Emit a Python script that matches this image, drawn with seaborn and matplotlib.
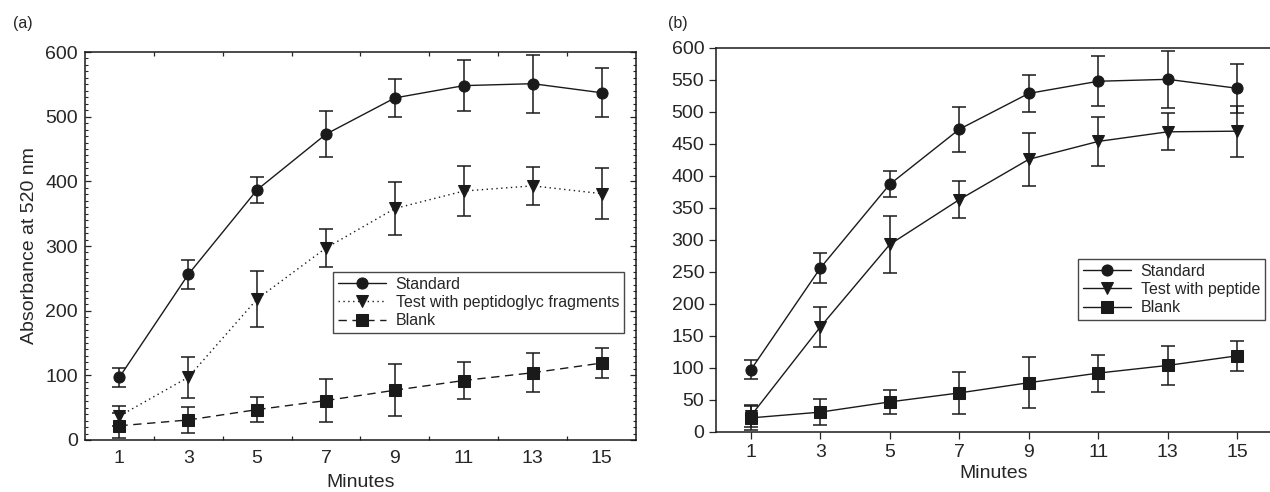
import numpy as np
import pandas as pd
import matplotlib
matplotlib.use("Agg")
import matplotlib.pyplot as plt
from matplotlib.ticker import MultipleLocator, FixedLocator
import seaborn as sns

minutes = [1, 3, 5, 7, 9, 11, 13, 15]

standard = [97, 256, 387, 473, 529, 548, 551, 537]
standard_err = [15, 23, 20, 35, 29, 39, 45, 38]

test_peptidoglyc = [37, 97, 218, 297, 358, 385, 393, 381]
test_peptidoglyc_err = [16, 32, 44, 29, 41, 38, 29, 40]

test_peptide = [25, 164, 293, 363, 426, 454, 469, 470]
test_peptide_err = [17, 32, 44, 29, 41, 38, 29, 40]

blank = [22, 31, 47, 61, 77, 92, 104, 119]
blank_err = [19, 20, 19, 33, 40, 29, 30, 23]

sns.set_style("ticks")
plt.rcParams["font.family"] = ["Liberation Sans", "DejaVu Sans"]

INK = "#1a1a1a"
TICK_FS = 14
LABEL_FS = 14


def draw_series(ax, y, err, label, marker, dashes, ms):
    df = pd.DataFrame({"Minutes": minutes, "value": y})
    ax.errorbar(minutes, y, yerr=err, fmt="none", ecolor=INK,
                elinewidth=1.1, capsize=5, capthick=1.1, zorder=2)
    sns.lineplot(data=df, x="Minutes", y="value", ax=ax, color=INK,
                 marker=marker, markersize=ms, markeredgecolor=INK,
                 markerfacecolor=INK, linewidth=1.0, label=label,
                 dashes=False, zorder=3)
    line = ax.get_lines()[-1]
    if dashes is not None:
        line.set_dashes(dashes)


fig = plt.figure(figsize=(12.7, 4.92), dpi=100)
ax_a = fig.add_axes([0.0669, 0.1057, 0.4339, 0.7886])
ax_b = fig.add_axes([0.5638, 0.122, 0.4378, 0.7805])

# panel (a)
draw_series(ax_a, standard, standard_err, "Standard", "o", None, 8)
draw_series(ax_a, test_peptidoglyc, test_peptidoglyc_err,
            "Test with peptidoglyc fragments", "v", (1, 2.5), 8)
draw_series(ax_a, blank, blank_err, "Blank", "s", (6, 4), 8)

ax_a.set_xlim(0, 16)
ax_a.set_ylim(0, 600)
ax_a.xaxis.set_major_locator(FixedLocator(minutes))
ax_a.xaxis.set_minor_locator(FixedLocator([2, 4, 6, 8, 10, 12, 14]))
ax_a.yaxis.set_major_locator(MultipleLocator(100))
ax_a.yaxis.set_minor_locator(MultipleLocator(10))
ax_a.tick_params(axis="x", which="major", length=0, labelsize=TICK_FS, pad=7)
ax_a.tick_params(axis="x", which="minor", direction="in", length=3,
                 top=True, bottom=True, width=0.9)
ax_a.tick_params(axis="y", which="major", direction="in", length=4,
                 left=True, right=True, labelsize=TICK_FS, pad=5, width=0.9)
ax_a.tick_params(axis="y", which="minor", direction="in", length=2.5,
                 left=True, right=True, width=0.8)
for s in ax_a.spines.values():
    s.set_visible(True)
    s.set_linewidth(1.1)
    s.set_color(INK)
ax_a.set_xlabel("Minutes", fontsize=LABEL_FS, labelpad=5)
ax_a.set_ylabel("Absorbance at 520 nm", fontsize=LABEL_FS, labelpad=5)
leg = ax_a.legend(loc="upper right", bbox_to_anchor=(0.4913, 0.4472),
                  bbox_transform=fig.transFigure, frameon=True, fancybox=False,
                  edgecolor=INK, fontsize=11.5, handlelength=3.0,
                  borderpad=0.3, labelspacing=0.2, handletextpad=0.6,
                  borderaxespad=0)
leg.get_frame().set_linewidth(1.0)

# panel (b)
draw_series(ax_b, standard, standard_err, "Standard", "o", None, 8)
draw_series(ax_b, test_peptide, test_peptide_err,
            "Test with peptide", "v", None, 8)
draw_series(ax_b, blank, blank_err, "Blank", "s", None, 8)

ax_b.set_xlim(0, 16)
ax_b.set_ylim(0, 600)
ax_b.xaxis.set_major_locator(FixedLocator(minutes))
ax_b.yaxis.set_major_locator(MultipleLocator(50))
ax_b.tick_params(axis="both", which="major", direction="out", length=5,
                 labelsize=TICK_FS, width=0.9)
ax_b.spines["right"].set_visible(False)
for s in ax_b.spines.values():
    s.set_linewidth(1.1)
    s.set_color(INK)
ax_b.set_xlabel("Minutes", fontsize=LABEL_FS, labelpad=3)
ax_b.set_ylabel("")
leg = ax_b.legend(loc="upper right", bbox_to_anchor=(0.996, 0.4736),
                  bbox_transform=fig.transFigure, frameon=True, fancybox=False,
                  edgecolor=INK, fontsize=11.5, handlelength=3.0,
                  borderpad=0.3, labelspacing=0.2, handletextpad=0.6,
                  borderaxespad=0)
leg.get_frame().set_linewidth(1.0)

fig.text(0.010, 0.953, "(a)", fontsize=11.5, va="center", ha="left")
fig.text(0.526, 0.953, "(b)", fontsize=11.5, va="center", ha="left")

fig.savefig("out.png", dpi=100)
plt.close()
